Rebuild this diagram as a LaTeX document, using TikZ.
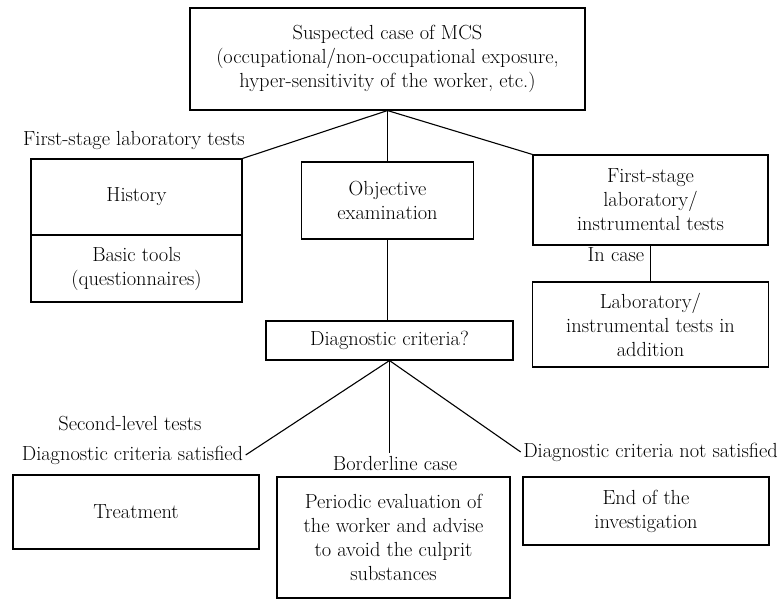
\documentclass[tikz,border=0pt]{standalone}
\usepackage{tikz}
\usetikzlibrary{calc}

\begin{document}
\begin{tikzpicture}[x=1pt,y=-1pt,line width=1.1pt]
	\tikzstyle{every node} = [font=\fontsize{20.4}{24}\selectfont, align=center, inner sep=2pt]
	\tikzstyle{box} = [draw, rectangle]
	\useasboundingbox (0,0) rectangle (782,602);
	% boxes
	\node[box, minimum width=395, minimum height=102] (mcs) at (387.5,59) {Suspected case of MCS\\(occupational/non-occupational exposure,\\hyper-sensitivity of the worker, etc.)};
	\node[box, minimum width=211, minimum height=76] (hist) at (136.5,197) {History};
	\node[box, minimum width=211, minimum height=67] (tools) at (136.5,268.5) {Basic tools\\(questionnaires)};
	\node[box, minimum width=172, minimum height=77] (obj) at (387.5,200.5) {Objective\\examination};
	\node[box, minimum width=235, minimum height=90] (lab) at (650.5,200) {First-stage\\laboratory/\\instrumental tests};
	\node[box, minimum width=236, minimum height=85] (addlab) at (650.5,324.5) {Laboratory/\\instrumental tests in\\addition};
	\node[box, minimum width=247, minimum height=39] (diag) at (389.5,340.5) {Diagnostic criteria?};
	\node[box, minimum width=246, minimum height=74] (treat) at (136,512) {Treatment};
	\node[box, minimum width=233, minimum height=121] (period) at (393.5,537.5) {Periodic evaluation of\\the worker and advise\\to avoid the culprit\\substances};
	\node[box, minimum width=246, minimum height=68] (endinv) at (646,511) {End of the\\investigation};
	% labels
	\node (first) at (134,141) {First-stage laboratory tests};
	\node (incase) at (616,255) {In case};
	\node (second) at (130,424) {Second-level tests};
	\node (sat) at (132.5,455) {Diagnostic criteria satisfied};
	\node (border) at (395,463) {Borderline case};
	\node (notsat) at (650.5,452) {Diagnostic criteria not satisfied};
	% connectors
	\draw (mcs.south) -- (hist.north east);
	\draw (mcs.south) -- (mcs.south |- obj.north);
	\draw (mcs.south) -- (lab.north west);
	\draw (obj.south) -- (obj.south |- diag.north);
	\draw (lab.south) -- (addlab.north);
	\draw (diag.south) -- (sat.east);
	\draw (diag.south) -- (diag.south |- border.north);
	\draw (diag.south) -- (notsat.west);
\end{tikzpicture}
\end{document}
